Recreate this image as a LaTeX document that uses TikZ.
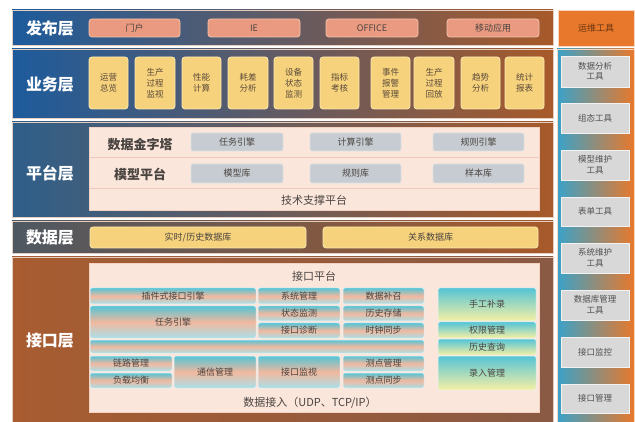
\documentclass[tikz,border=0pt]{standalone}
\usepackage{fontspec}
\setmainfont{Noto Sans CJK SC}
\definecolor{blueL}{HTML}{1D5B9C}
\definecolor{brownR}{HTML}{A85A2A}
\definecolor{platL}{HTML}{2E5E8A}
\definecolor{dataL}{HTML}{4E5862}
\definecolor{ifL}{HTML}{A85C30}
\definecolor{ifR}{HTML}{8A5A44}
\definecolor{pubF}{HTML}{EA9A80}
\definecolor{pubB}{HTML}{F5C4AE}
\definecolor{bizF}{HTML}{F6D27C}
\definecolor{bizB}{HTML}{FCEBB4}
\definecolor{panelF}{HTML}{FBE6DC}
\definecolor{panelB}{HTML}{F3D2C4}
\definecolor{sepC}{HTML}{F0C8BC}
\definecolor{greyF}{HTML}{C6CCD1}
\definecolor{greyB}{HTML}{DDE1E4}
\definecolor{txt}{HTML}{4A4440}
\definecolor{bizT}{HTML}{5A4A3A}
\definecolor{cyanT}{HTML}{55C4D6}
\definecolor{peach}{HTML}{F2B89E}
\definecolor{cyanB}{HTML}{A9E0E8}
\definecolor{yel}{HTML}{F6F0A4}
\definecolor{opsF}{HTML}{E8782C}
\definecolor{opsT}{HTML}{6B3510}
\definecolor{toolL}{HTML}{3AA2C8}
\definecolor{toolR}{HTML}{E8782C}
\definecolor{toolF}{HTML}{D8D8D8}
\definecolor{toolT}{HTML}{505050}
\newcommand{\mybox}[7]{%
  \node[#6, minimum width={(#4-#2)*1pt}, minimum height={(#5-#3)*1pt}] (#1) at ({(#2+#4)/2},{(#3+#5)/2}) {#7};}
\begin{document}
\begin{tikzpicture}[x=1pt,y=-1pt,
  every node/.style={inner sep=0pt, outer sep=0pt},
  band/.style={draw=white!70!brownR, line width=0.8pt},
  lbl/.style={text=white, font=\fontsize{16}{16}\selectfont\bfseries},
  pub/.style={draw=pubB, fill=pubF, rounded corners=3pt, line width=0.8pt, text=txt, font=\fontsize{9}{10}\selectfont},
  biz/.style={draw=bizB, fill=bizF, rounded corners=3pt, line width=0.8pt, text=bizT, align=center, font=\fontsize{8.5}{11}\selectfont},
  panel/.style={fill=panelF, draw=panelB, line width=0.8pt},
  gbox/.style={fill=greyF, draw=greyB, rounded corners=2pt, line width=0.6pt, text=txt, font=\fontsize{9}{10}\selectfont},
  dbox/.style={fill=bizF, draw=bizB, rounded corners=3pt, line width=0.8pt, text=txt, font=\fontsize{9}{10}\selectfont},
  ptitle/.style={text=txt, font=\fontsize{13}{13}\selectfont\bfseries},
  ptext/.style={text=txt, font=\fontsize{11}{11}\selectfont},
  ibox/.style={top color=cyanT, bottom color=cyanB, middle color=peach, draw=white!85!cyanT, line width=0.5pt, rounded corners=2pt, text=txt, font=\fontsize{9}{10}\selectfont},
  ybox/.style={top color=cyanT, bottom color=yel, draw=white!85!cyanT, line width=0.5pt, rounded corners=2pt, text=txt, font=\fontsize{9}{10}\selectfont},
  tool/.style={fill=toolF, draw=white!90!gray, line width=0.8pt, text=toolT, align=center, font=\fontsize{8.5}{10.5}\selectfont},
]
\useasboundingbox (0,0) rectangle (635,422);
\fill[white] (0,0) rectangle (635,422);

% ---- bands ----
\mybox{pubband}{12}{10}{553}{45}{band, left color=blueL, right color=brownR}{}
\mybox{bizband}{12}{49}{553}{118}{band, left color=blueL, right color=brownR}{}
\mybox{platband}{12}{122}{553}{217}{band, left color=platL, right color=brownR}{}
\mybox{databand}{12}{221}{553}{253}{band, left color=dataL, right color=brownR}{}
\mybox{ifband}{12}{257}{553}{422}{band, left color=ifL, right color=ifR}{}

\node[lbl] (l1) at (50,28) {发布层};
\node[lbl] (l2) at (50,85) {业务层};
\node[lbl] (l3) at (50,173) {平台层};
\node[lbl] (l4) at (50,238) {数据层};
\node[lbl] (l5) at (50,341) {接口层};

% ---- publish ----
\mybox{p1}{89}{19}{180}{37}{pub}{门户}
\mybox{p2}{208}{19}{300}{37}{pub}{IE}
\mybox{p3}{326}{19}{418}{37}{pub}{OFFICE}
\mybox{p4}{447}{19}{539}{37}{pub}{移动应用}

% ---- business ----
\mybox{b1}{89}{57}{128}{109}{biz}{运营\\总览}
\mybox{b2}{135}{57}{175}{109}{biz}{生产\\过程\\监视}
\mybox{b3}{182}{57}{221}{109}{biz}{性能\\计算}
\mybox{b4}{228}{57}{268}{109}{biz}{耗差\\分析}
\mybox{b5}{274}{57}{313}{109}{biz}{设备\\状态\\监测}
\mybox{b6}{320}{57}{359}{109}{biz}{指标\\考核}
\mybox{b7}{371}{57}{410}{109}{biz}{事件\\报警\\管理}
\mybox{b8}{414}{57}{454}{109}{biz}{生产\\过程\\回放}
\mybox{b9}{461}{57}{500}{109}{biz}{趋势\\分析}
\mybox{b10}{505}{57}{544}{109}{biz}{统计\\报表}

% ---- platform ----
\mybox{platpanel}{89}{127}{539}{210}{panel}{}
\coordinate (s1a) at (89,157); \coordinate (s1b) at (539,157);
\coordinate (s2a) at (89,188); \coordinate (s2b) at (539,188);
\draw[sepC, line width=0.6pt] (s1a) -- (s1b);
\draw[sepC, line width=0.6pt] (s2a) -- (s2b);
\node[ptitle] (pyr) at (140,145) {数据金字塔};
\node[ptitle] (mdl) at (140,174) {模型平台};
\mybox{g1}{191}{133}{283}{151}{gbox}{任务引擎}
\mybox{g2}{310}{133}{401}{151}{gbox}{计算引擎}
\mybox{g3}{433}{133}{524}{151}{gbox}{规则引擎}
\mybox{g4}{191}{164}{283}{183}{gbox}{模型库}
\mybox{g5}{310}{164}{401}{183}{gbox}{规则库}
\mybox{g6}{433}{164}{524}{183}{gbox}{样本库}
\node[ptext] (tech) at (314,200) {技术支撑平台};

% ---- data ----
\mybox{d1}{90}{227}{306}{248}{dbox}{实时/历史数据库}
\mybox{d2}{323}{227}{538}{248}{dbox}{关系数据库}

% ---- interface ----
\mybox{ifpanel}{89}{263}{539}{412}{panel}{}
\node[ptext] (ifp) at (314,276) {接口平台};
\mybox{i1}{90}{288}{256}{304}{ibox}{插件式接口引擎}
\mybox{i2}{90}{306}{256}{338}{ibox}{任务引擎}
\mybox{i3}{258}{288}{340}{304}{ibox}{系统管理}
\mybox{i4}{258}{306}{340}{321}{ibox}{状态监测}
\mybox{i5}{258}{323}{340}{338}{ibox}{接口诊断}
\mybox{i6}{343}{288}{424}{304}{ibox}{数据补召}
\mybox{i7}{343}{306}{424}{321}{ibox}{历史存储}
\mybox{i8}{343}{323}{424}{338}{ibox}{时钟同步}
\mybox{i9}{90}{340}{424}{353}{ibox}{}
\mybox{i10}{90}{356}{172}{371}{ibox}{链路管理}
\mybox{i11}{90}{373}{172}{388}{ibox}{负载均衡}
\mybox{i12}{174}{356}{256}{388}{ibox}{通信管理}
\mybox{i13}{258}{356}{340}{388}{ibox}{接口监视}
\mybox{i14}{343}{356}{424}{371}{ibox}{测点管理}
\mybox{i15}{343}{373}{424}{388}{ibox}{测点同步}
\mybox{y1}{438}{288}{536}{321}{ybox}{手工补录}
\mybox{y2}{438}{322}{536}{338}{ybox}{权限管理}
\mybox{y3}{438}{339}{536}{355}{ybox}{历史查询}
\mybox{y4}{438}{356}{536}{390}{ybox}{录入管理}
\node[ptext] (acc) at (310,403) {数据接入（UDP、TCP/IP）};

% ---- ops tools ----
\mybox{ops}{558}{10}{634}{46}{fill=opsF, draw=white!70!opsF, line width=0.8pt, text=opsT, font=\fontsize{9}{10}\selectfont}{运维工具}
\mybox{toolpanel}{557}{49}{634}{422}{left color=toolL, right color=toolR, draw=white!70!opsF, line width=0.8pt}{}
\mybox{t1}{561}{56}{629}{87}{tool}{数据分析\\工具}
\mybox{t2}{561}{103}{629}{133}{tool}{组态工具}
\mybox{t3}{561}{150}{629}{180}{tool}{模型维护\\工具}
\mybox{t4}{561}{197}{629}{226}{tool}{表单工具}
\mybox{t5}{561}{243}{629}{273}{tool}{系统维护\\工具}
\mybox{t6}{561}{290}{629}{320}{tool}{数据库管理\\工具}
\mybox{t7}{561}{337}{629}{367}{tool}{接口监控}
\mybox{t8}{561}{384}{629}{413}{tool}{接口管理}
\end{tikzpicture}
\end{document}
